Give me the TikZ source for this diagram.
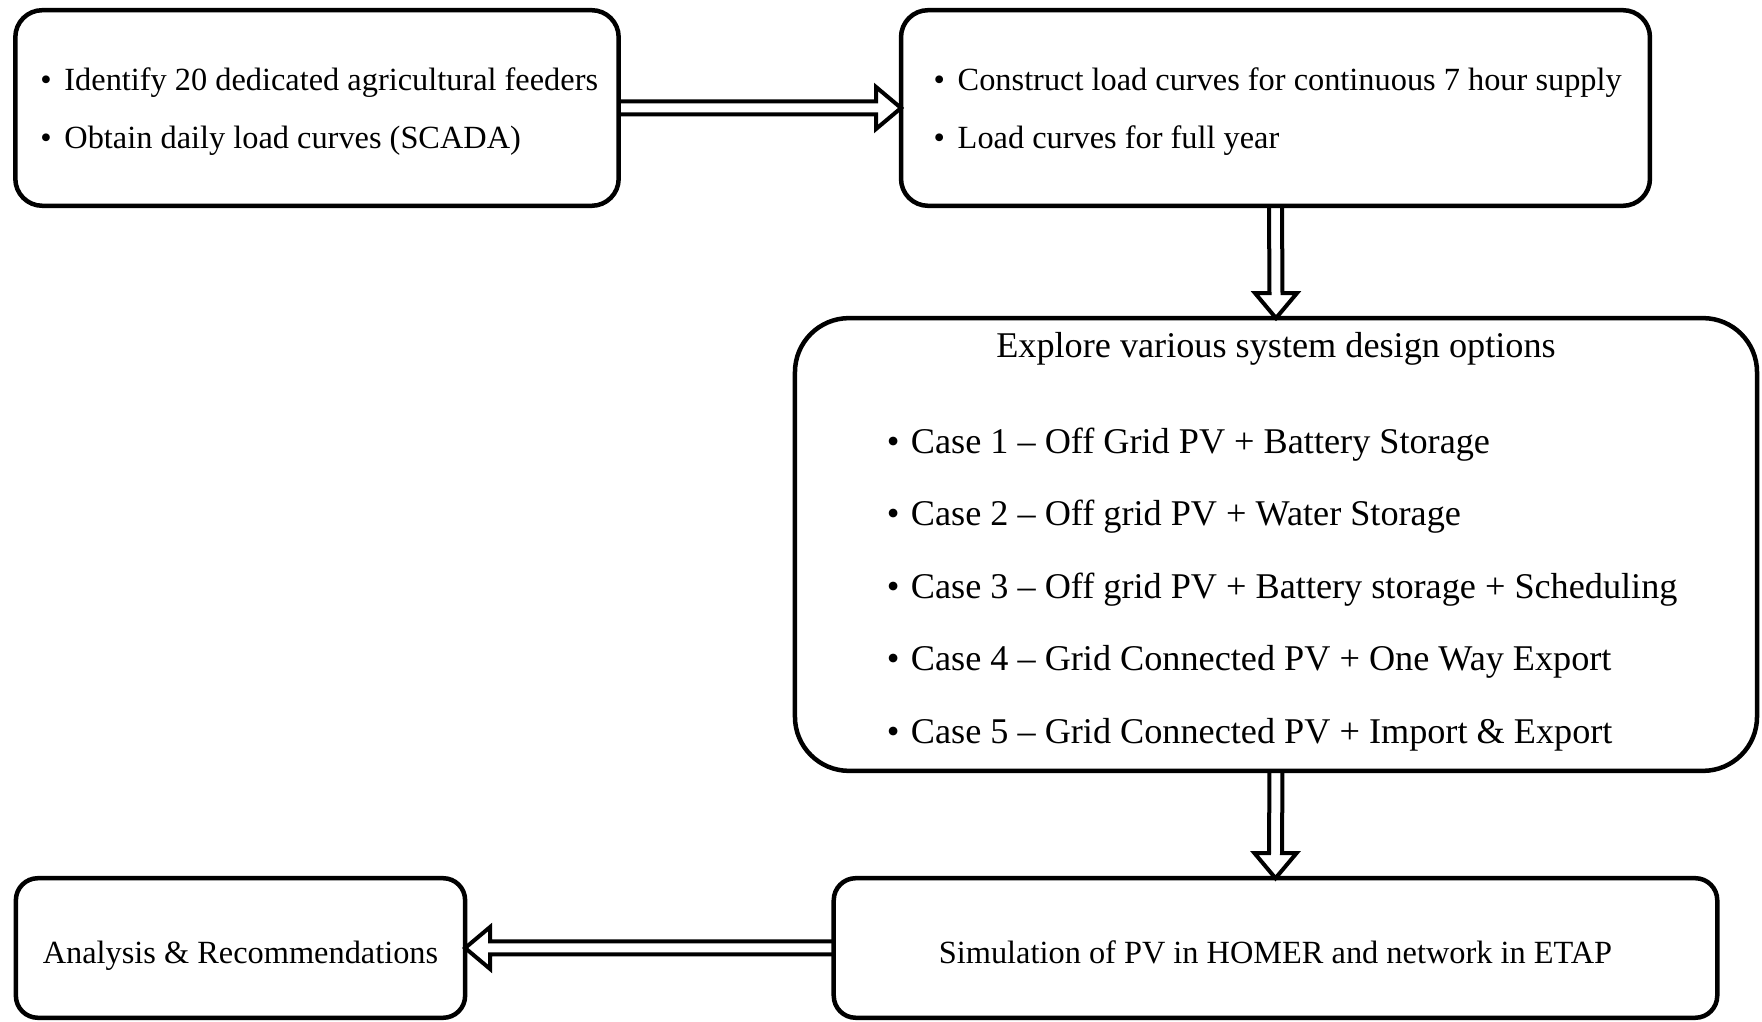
\documentclass[tikz,border=0pt]{standalone}
\usepackage{fontspec}
\setmainfont{Liberation Serif}
\usetikzlibrary{calc}
\tikzset{every node/.style={font=\fontsize{9.2}{11}\selectfont},
 box/.style={draw,line width=0.045cm,rounded corners=0.27cm,outer sep=0pt,
 inner sep=0pt,align=left,text depth=0pt},
 oneline/.style={text height=0.9em,text depth=0pt},
 hollow/.style={draw,line width=0.04cm,line join=miter}}
\newcommand{\bitem}{\hspace*{0.045cm}\makebox[0.24cm][l]{\textbullet}}
\begin{document}
\begin{tikzpicture}[x=0.01cm,y=-0.01cm]
\useasboundingbox (0,0) rectangle (1762,1022);
% boxes
\node[box,minimum width=6.03cm,minimum height=1.955cm,
 font=\fontsize{9.2}{16.5}\selectfont] (feed) at (317,108)
 {\bitem Identify 20 dedicated agricultural feeders\\
  \bitem Obtain daily load curves (SCADA)};
\node[box,minimum width=7.485cm,minimum height=1.955cm,
 font=\fontsize{9.2}{16.5}\selectfont] (curve) at (1275.5,108)
 {\bitem Construct load curves for continuous 7 hour supply\\
  \bitem Load curves for full year};
\node[box,rounded corners=0.54cm,minimum width=9.615cm,
 minimum height=4.525cm] (opt) at (1276,544.5) {};
\node[font=\fontsize{10.3}{12}\selectfont] (opttitle) at (1276,349)
 {Explore various system design options};
\node[align=left,text depth=0pt,font=\fontsize{10.3}{20.6}\selectfont]
 (cases) at (1280,585.5)
 {\bitem Case 1 -- Off Grid PV + Battery Storage\\
  \bitem Case 2 -- Off grid PV + Water Storage\\
  \bitem Case 3 -- Off grid PV + Battery storage + Scheduling\\
  \bitem Case 4 -- Grid Connected PV + One Way Export\\
  \bitem Case 5 -- Grid Connected PV + Import \& Export};
\node[box,oneline,rounded corners=0.22cm,minimum width=8.83cm,
 minimum height=1.395cm] (sim) at (1275.5,948)
 {Simulation of PV in HOMER and network in ETAP};
\node[box,oneline,rounded corners=0.22cm,minimum width=4.49cm,
 minimum height=1.395cm] (ana) at (240.5,948) {Analysis \& Recommendations};
% hollow arrows
\draw[hollow] ($(feed.east)+(0,-6.5)$)--($(curve.west)+(-25,-6.5)$)
 --($(curve.west)+(-25,-21)$)--(curve.west)--($(curve.west)+(-25,21)$)
 --($(curve.west)+(-25,6.5)$)--($(feed.east)+(0,6.5)$);
\draw[hollow] ($(curve.south)+(-6.5,0)$)--($(opt.north)+(-6.5,-25)$)
 --($(opt.north)+(-21,-25)$)--(opt.north)--($(opt.north)+(21,-25)$)
 --($(opt.north)+(6.5,-25)$)--($(curve.south)+(6.5,0)$);
\draw[hollow] ($(opt.south)+(-6.5,0)$)--($(sim.north)+(-6.5,-25)$)
 --($(sim.north)+(-21,-25)$)--(sim.north)--($(sim.north)+(21,-25)$)
 --($(sim.north)+(6.5,-25)$)--($(opt.south)+(6.5,0)$);
\draw[hollow] ($(sim.west)+(0,-6.5)$)--($(ana.east)+(25,-6.5)$)
 --($(ana.east)+(25,-21)$)--(ana.east)--($(ana.east)+(25,21)$)
 --($(ana.east)+(25,6.5)$)--($(sim.west)+(0,6.5)$);
\end{tikzpicture}
\end{document}
